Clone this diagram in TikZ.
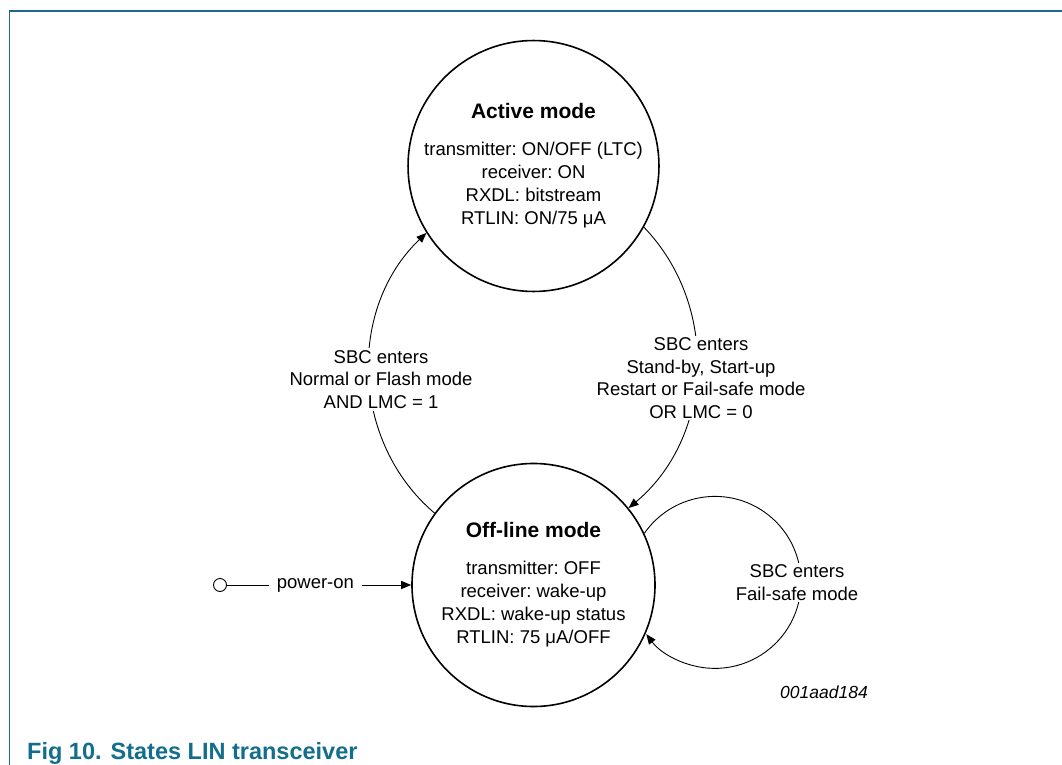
\documentclass[tikz,border=0pt]{standalone}
\usepackage{fontspec}
\setmainfont{Liberation Sans}
\usetikzlibrary{arrows.meta}
\definecolor{framec}{RGB}{30,105,135}
\definecolor{capc}{RGB}{18,110,140}
\frenchspacing
\begin{document}
\begin{tikzpicture}[x=1pt,y=-1pt,
  state/.style={circle,draw,line width=1.6pt,minimum size=243pt,inner sep=0pt,align=center,font=\fontsize{18.5}{23}\selectfont},
  lbl/.style={fill=white,inner sep=2pt,align=center,font=\fontsize{18.5}{22.5}\selectfont},
  conn/.style={line width=0.9pt,-{Triangle[length=10pt,width=8pt]}}]
\useasboundingbox (0,0) rectangle (1062,765);
\draw[framec,line width=1.3pt] (1062,11) -- (9.5,11) -- (9.5,765);
\node[state] (act) at (533.5,166) {{\bfseries\fontsize{21}{23}\selectfont Active mode}\\[14pt]transmitter: ON/OFF (LTC)\\receiver: ON\\RXDL: bitstream\\RTLIN: ON/75 μA};
\node[state] (off) at (533.5,585) {{\bfseries\fontsize{21}{23}\selectfont Off-line mode}\\[14pt]transmitter: OFF\\receiver: wake-up\\RXDL: wake-up status\\RTLIN: 75 μA/OFF};
\draw[conn] (off.144) to[bend left=48] (act.212);
\node[lbl] (l1) at (381,379.5) {SBC enters\\Normal or Flash mode\\AND LMC = 1};
\draw[conn] (act.-29) to[bend left=47] (off.39);
\node[lbl] (l2) at (701,378) {SBC enters\\Stand-by, Start-up\\Restart or Fail-safe mode\\OR LMC = 0};
\draw[conn] (off.25.5) arc[start angle=145.2,end angle=-143,radius=86pt];
\node[lbl] (l3) at (797,582.5) {SBC enters\\Fail-safe mode};
\node[circle,draw,line width=0.9pt,minimum size=13pt,inner sep=0pt] (pc) at (220,585) {};
\draw[conn] (pc) -- node[lbl,pos=0.48,inner xsep=8pt] (pwr) {power-on} (off);
\node[font=\itshape\fontsize{17.5}{20}\selectfont] (id) at (824,692) {001aad184};
\node[anchor=base west,text=capc,font=\bfseries\fontsize{23.5}{28}\selectfont,inner sep=0pt] (cap) at (27,759.5) {Fig 10.\hspace{9pt}States LIN transceiver};
\end{tikzpicture}
\end{document}
